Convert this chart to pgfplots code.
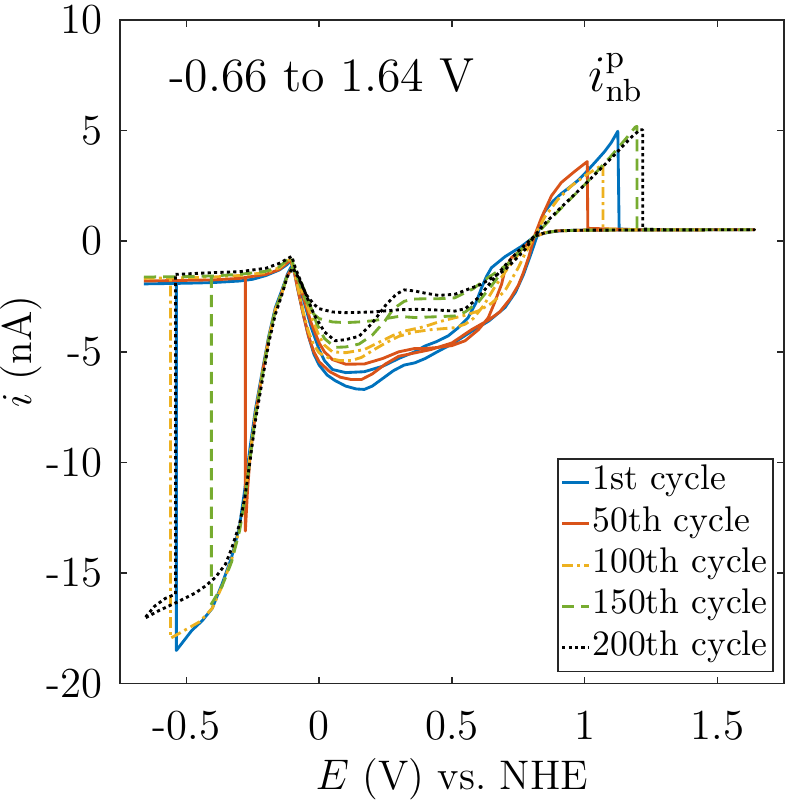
\documentclass[border=0pt]{standalone}
\usepackage{pgfplots}
\pgfplotsset{compat=1.18}
\definecolor{c1}{rgb}{0,0.447,0.741}
\definecolor{c2}{rgb}{0.85,0.325,0.098}
\definecolor{c3}{rgb}{0.929,0.694,0.125}
\definecolor{c4}{rgb}{0.466,0.674,0.188}
\begin{document}
\begin{tikzpicture}
\begin{axis}[
 width=186.2pt, height=186.2pt, scale only axis,
 xmin=-0.75, xmax=1.75, ymin=-20, ymax=10,
 xtick={-0.5,0,0.5,1,1.5}, ytick={-20,-15,-10,-5,0,5,10},
 tick align=inside, major tick length=1.9pt,
 axis line style={black!85, line width=0.45pt},
 every tick/.style={black!85, line width=0.45pt},
 /pgf/number format/assume math mode=true,
 tick label style={font=\fontsize{12}{14}\selectfont, inner sep=0pt},
 label style={font=\fontsize{11.6}{14}\selectfont, inner sep=0pt},
 xticklabel style={yshift=-7.6pt},
 yticklabel style={xshift=-4.8pt},
 xlabel={$E$ (V) vs.\ NHE}, ylabel={$i$ (nA)},
 xlabel shift=4.8pt, ylabel shift=1.2pt,
 legend style={at={(0.985,0.0175)}, anchor=south east, draw=black!85,
   font=\fontsize{10}{11}\selectfont, inner sep=0.8pt,
   nodes={inner sep=0.7pt, text height=7.2pt, text depth=3pt}},
 legend cell align=left,
 legend image code/.code={\draw[#1, line width=0.8pt] (0cm,0cm) -- (0.26cm,0cm);},
 every axis plot/.append style={line width=0.8pt, line join=round},
]
% 1st cycle
\addplot[c1] coordinates {
(-0.66,-1.93)(-0.5,-1.9)(-0.4,-1.87)(-0.3,-1.8)(-0.25,-1.72)(-0.2,-1.55)(-0.15,-1.3)(-0.12,-1.05)(-0.108,-0.9)
(-0.095,-1.3)(-0.08,-2.2)(-0.06,-3.3)(-0.04,-4.3)(-0.02,-5.1)(0.0,-5.6)(0.03,-6.05)(0.06,-6.3)(0.1,-6.55)(0.14,-6.68)(0.17,-6.7)(0.2,-6.55)(0.24,-6.2)(0.28,-5.85)(0.32,-5.6)(0.36,-5.5)(0.4,-5.3)(0.448,-4.98)(0.5,-4.65)(0.574,-4.08)(0.64,-3.6)(0.7,-3.0)(0.74,-2.3)(0.77,-1.5)(0.80,-0.5)(0.82,0.2)(0.847,1.3)(0.88,1.8)(0.912,2.15)(0.95,2.5)(0.975,2.75)(1.0,3.05)(1.038,3.55)(1.075,4.05)(1.10,4.45)(1.125,4.97)(1.13,0.55)(1.2,0.52)(1.64,0.52)
(1.0,0.5)(0.92,0.48)(0.87,0.42)(0.84,0.33)(0.81,0.2)(0.76,-0.25)(0.7,-0.7)(0.649,-1.2)(0.63,-1.6)(0.612,-2.1)(0.59,-2.8)(0.561,-3.46)(0.52,-3.95)(0.486,-4.28)(0.44,-4.55)(0.398,-4.74)(0.36,-5.0)(0.3,-5.3)(0.24,-5.65)(0.17,-5.9)(0.1,-5.94)(0.05,-5.8)(0.02,-5.4)(0.0,-4.9)(-0.03,-3.9)(-0.06,-2.6)(-0.08,-1.8)(-0.1,-1.25)(-0.105,-1.15)
(-0.12,-1.5)(-0.14,-2.2)(-0.165,-3.0)(-0.19,-4.3)(-0.21,-5.6)(-0.24,-7.6)(-0.26,-9.3)(-0.28,-11.2)(-0.3,-12.9)(-0.33,-14.3)(-0.366,-15.5)(-0.403,-16.6)(-0.44,-17.15)(-0.48,-17.6)(-0.538,-18.5)(-0.538,-1.9)
};
\addlegendentry{1st cycle}
% 50th cycle
\addplot[c2] coordinates {
(-0.66,-1.8)(-0.4,-1.75)(-0.3,-1.68)(-0.2,-1.5)(-0.15,-1.28)(-0.108,-0.85)
(-0.095,-1.3)(-0.08,-2.2)(-0.06,-3.3)(-0.04,-4.3)(-0.02,-5.0)(0.0,-5.45)(0.04,-5.9)(0.08,-6.15)(0.12,-6.25)(0.16,-6.25)(0.2,-6.0)(0.25,-5.55)(0.3,-5.2)(0.36,-5.05)(0.42,-4.9)(0.5,-4.6)(0.574,-4.0)(0.64,-3.55)(0.68,-3.2)(0.72,-2.6)(0.75,-2.0)(0.77,-1.4)(0.79,-0.7)(0.81,0.2)(0.837,1.05)(0.875,2.05)(0.912,2.65)(0.962,3.15)(1.01,3.6)(1.012,0.58)(1.2,0.52)(1.64,0.52)
(1.0,0.5)(0.9,0.47)(0.85,0.38)(0.81,0.2)(0.77,-0.3)(0.724,-0.75)(0.7,-1.3)(0.687,-1.95)(0.66,-2.8)(0.637,-3.46)(0.6,-4.0)(0.55,-4.5)(0.5,-4.72)(0.45,-4.8)(0.4,-4.85)(0.36,-4.85)(0.3,-5.0)(0.24,-5.3)(0.17,-5.55)(0.1,-5.56)(0.05,-5.35)(0.02,-5.0)(0.0,-4.6)(-0.03,-3.7)(-0.06,-2.5)(-0.08,-1.7)(-0.1,-1.2)
(-0.12,-1.55)(-0.14,-2.3)(-0.165,-3.1)(-0.19,-4.4)(-0.21,-5.7)(-0.24,-7.8)(-0.26,-9.7)(-0.27,-11.3)(-0.278,-13.1)(-0.278,-1.68)
};
\addlegendentry{50th cycle}
% 100th cycle
\addplot[c3, dash pattern=on 3pt off 1.2pt on 0.8pt off 1.2pt] coordinates {
(-0.66,-1.68)(-0.56,-1.66)(-0.4,-1.62)(-0.3,-1.55)(-0.2,-1.42)(-0.15,-1.2)(-0.108,-0.8)
(-0.095,-1.3)(-0.08,-2.1)(-0.06,-3.2)(-0.04,-4.1)(-0.02,-4.7)(0.0,-5.05)(0.04,-5.3)(0.08,-5.4)(0.12,-5.4)(0.16,-5.25)(0.2,-4.95)(0.25,-4.6)(0.3,-4.3)(0.36,-4.1)(0.42,-4.0)(0.47,-3.95)(0.511,-3.91)(0.55,-3.75)(0.58,-3.5)(0.62,-2.9)(0.66,-2.1)(0.7,-1.4)(0.75,-0.6)(0.81,0.2)(0.85,1.1)(0.9,1.9)(0.95,2.5)(1.0,2.95)(1.04,3.25)(1.069,3.46)(1.069,0.56)(1.2,0.52)(1.64,0.52)
(1.0,0.5)(0.9,0.47)(0.85,0.38)(0.81,0.2)(0.774,-0.6)(0.75,-1.2)(0.699,-2.26)(0.65,-2.8)(0.6,-3.15)(0.55,-3.35)(0.511,-3.46)(0.45,-3.65)(0.4,-3.85)(0.323,-4.06)(0.28,-4.25)(0.22,-4.6)(0.17,-4.9)(0.1,-5.04)(0.05,-5.0)(0.02,-4.7)(0.0,-4.3)(-0.03,-3.4)(-0.06,-2.4)(-0.08,-1.7)(-0.1,-1.2)
(-0.12,-1.55)(-0.14,-2.3)(-0.165,-3.1)(-0.19,-4.4)(-0.21,-5.7)(-0.24,-7.8)(-0.26,-9.6)(-0.28,-11.6)(-0.3,-13.0)(-0.33,-14.4)(-0.366,-15.6)(-0.403,-16.6)(-0.45,-17.2)(-0.516,-17.65)(-0.56,-17.95)(-0.56,-1.66)
};
\addlegendentry{100th cycle}
% 150th cycle
\addplot[c4, dash pattern=on 3.4pt off 2pt] coordinates {
(-0.66,-1.62)(-0.5,-1.6)(-0.4,-1.57)(-0.3,-1.5)(-0.2,-1.36)(-0.15,-1.15)(-0.105,-0.7)
(-0.095,-1.2)(-0.08,-1.7)(-0.06,-2.4)(-0.04,-2.9)(-0.02,-3.3)(0.0,-3.5)(0.05,-3.65)(0.1,-3.68)(0.15,-3.65)(0.2,-3.6)(0.25,-3.5)(0.3,-3.4)(0.36,-3.45)(0.43,-3.42)(0.511,-3.38)(0.55,-3.2)(0.6,-2.75)(0.65,-2.0)(0.7,-1.2)(0.75,-0.5)(0.81,0.2)(0.86,0.85)(0.9,1.35)(1.0,2.55)(1.1,3.85)(1.16,4.7)(1.19,5.15)(1.197,5.19)(1.197,0.55)(1.3,0.52)(1.64,0.52)
(1.0,0.5)(0.9,0.47)(0.85,0.38)(0.81,0.2)(0.76,-0.4)(0.724,-0.9)(0.68,-1.3)(0.636,-1.65)(0.58,-2.15)(0.511,-2.56)(0.45,-2.6)(0.4,-2.6)(0.35,-2.62)(0.32,-2.72)(0.28,-3.05)(0.248,-3.6)(0.2,-4.25)(0.15,-4.65)(0.1,-4.78)(0.06,-4.8)(0.02,-4.4)(-0.01,-3.7)(-0.04,-2.7)(-0.07,-1.8)(-0.1,-1.2)
(-0.12,-1.55)(-0.14,-2.3)(-0.165,-3.1)(-0.19,-4.4)(-0.21,-5.8)(-0.24,-7.9)(-0.26,-9.8)(-0.28,-11.7)(-0.3,-13.1)(-0.33,-14.5)(-0.366,-15.6)(-0.406,-16.4)(-0.406,-1.57)
};
\addlegendentry{150th cycle}
% 200th cycle
\addplot[black, dash pattern=on 0.9pt off 0.9pt] coordinates {
(-0.541,-1.5)(-0.4,-1.42)(-0.3,-1.38)(-0.2,-1.22)(-0.15,-1.0)(-0.12,-0.8)(-0.103,-0.68)
(-0.09,-1.2)(-0.07,-1.8)(-0.05,-2.4)(-0.02,-2.85)(0.0,-3.05)(0.05,-3.2)(0.1,-3.23)(0.2,-3.2)(0.3,-3.1)(0.36,-3.08)(0.43,-3.1)(0.511,-3.16)(0.55,-3.05)(0.6,-2.55)(0.65,-1.8)(0.7,-1.1)(0.75,-0.45)(0.81,0.22)(0.85,0.8)(0.9,1.4)(1.0,2.55)(1.1,3.75)(1.18,4.75)(1.21,5.04)(1.219,5.04)(1.219,0.55)(1.3,0.52)(1.64,0.52)
(1.0,0.5)(0.9,0.47)(0.85,0.38)(0.81,0.22)(0.774,-0.4)(0.7,-1.3)(0.61,-1.95)(0.511,-2.4)(0.45,-2.45)(0.4,-2.35)(0.36,-2.25)(0.32,-2.2)(0.29,-2.4)(0.25,-2.9)(0.2,-3.7)(0.15,-4.3)(0.1,-4.45)(0.06,-4.5)(0.02,-4.1)(-0.02,-3.3)(-0.05,-2.4)(-0.08,-1.6)(-0.1,-1.2)
(-0.12,-1.6)(-0.14,-2.4)(-0.165,-3.3)(-0.19,-4.6)(-0.21,-6.0)(-0.24,-8.1)(-0.26,-9.9)(-0.28,-11.6)(-0.3,-12.8)(-0.33,-13.9)(-0.353,-14.6)(-0.391,-15.2)(-0.43,-15.6)(-0.466,-15.9)(-0.541,-16.35)(-0.604,-16.7)(-0.658,-17.05)(-0.62,-16.5)(-0.58,-16.15)(-0.541,-15.95)(-0.541,-1.5)
};
\addlegendentry{200th cycle}
\node[font=\fontsize{13.4}{15}\selectfont] at (axis cs:0.01,7.5) {-0.66 to 1.64 V};
\node[font=\fontsize{13.4}{15}\selectfont] at (axis cs:1.117,7.4) {$i^{\mathrm{p}}_{\mathrm{nb}}$};
\end{axis}
\path ([yshift=5.6pt]current axis.north west);
\end{tikzpicture}
\end{document}
